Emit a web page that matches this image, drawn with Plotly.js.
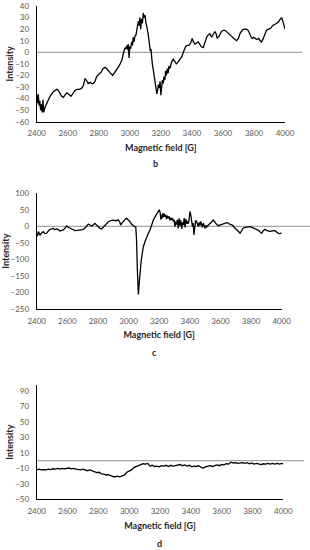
<!DOCTYPE html>
<html>
<head>
<meta charset="utf-8">
<script src="https://cdn.plot.ly/plotly-3.0.1.min.js"></script>
<style>html,body{margin:0;padding:0;background:#fff;}#chart{width:310px;height:550px;}</style>
</head>
<body>
<div id="chart"></div>
<script>
// Panel b
const fieldB = [2400,2405,2410,2415,2420,2425,2430,2435,2440,2445,2452,2464,2475,2486,2497,2507,2518,2529,2540,2550,2561,2571,2583,2593,2604,2614,2621,2632,2647,2660,2675,2690,2700,2711,2720,2732,2745,2755,2765,2776,2786,2800,2816,2828,2840,2850,2861,2875,2889,2900,2910,2919,2930,2941,2950,2962,2969,2975,2982,2986,2990,2995,3000,3005,3012,3017,3022,3027,3033,3040,3046,3050,3055,3060,3065,3070,3076,3081,3087,3092,3098,3104,3110,3119,3126,3132,3136,3140,3145,3151,3156,3162,3168,3174,3179,3184,3190,3195,3200,3205,3210,3215,3220,3226,3231,3236,3242,3247,3252,3258,3264,3270,3280,3290,3300,3308,3320,3334,3345,3360,3370,3381,3392,3402,3410,3420,3430,3441,3450,3460,3473,3485,3495,3505,3516,3527,3538,3548,3556,3563,3575,3591,3603,3613,3630,3645,3655,3666,3678,3688,3700,3709,3724,3735,3752,3762,3774,3782,3789,3800,3817,3830,3840,3849,3860,3870,3881,3895,3909,3920,3935,3946,3956,3966,3978,3988,4000];
const intensityB = [-37,-44,-36,-46,-42,-50,-45,-52,-41,-52,-48,-44,-41,-38,-36,-34,-33,-32,-33,-36,-38,-39,-37,-35,-36,-37,-38,-36,-33,-32,-32,-31,-29,-23,-24,-27,-26,-27,-27,-25,-21,-19,-17,-14,-13,-14,-16,-18,-20,-18,-16,-15,-12,-9,-6,1,4,3,6,2,7,-5,5,3,9,6,13,9,14,15,20,24,27,23,30,20,29,25,34,30,32,25,22,15,8,1,3,-5,-10,-15,-20,-27,-30,-36,-33,-28,-31,-25,-37,-30,-24,-27,-21,-24,-16,-20,-14,-18,-12,-14,-10,-8,-6,-8,-10,-9,-7,-4,0,5,6,6,8,12,9,7,8,9,7,5,4,9,13,15,16,13,16,18,16,12,14,18,19,19,17,15,14,12,11,10,12,16,19,20,20,19,15,13,12,13,11,12,10,9,12,15,19,20,21,23,24,25,26,28,30,26,20];

// Panel c
const fieldC = [2400,2404,2411,2416,2422,2432,2443,2454,2465,2476,2487,2498,2508,2519,2530,2541,2552,2563,2574,2585,2596,2606,2617,2630,2650,2667,2683,2700,2715,2726,2737,2748,2759,2770,2781,2792,2802,2813,2824,2835,2846,2857,2868,2884,2900,2916,2933,2942,2948,2957,2966,2977,2988,2998,3009,3020,3031,3040,3047,3052,3057,3062,3064,3068,3075,3082,3090,3097,3108,3119,3130,3140,3150,3162,3172,3183,3192,3200,3206,3211,3216,3220,3224,3228,3232,3238,3243,3248,3254,3260,3265,3271,3276,3282,3287,3292,3298,3303,3308,3314,3319,3325,3330,3336,3341,3347,3352,3358,3363,3369,3374,3380,3385,3390,3395,3401,3406,3412,3417,3422,3427,3432,3438,3445,3450,3455,3461,3466,3471,3477,3482,3488,3494,3499,3505,3510,3521,3532,3543,3553,3564,3575,3586,3597,3608,3619,3630,3641,3651,3662,3673,3684,3695,3706,3717,3728,3739,3750,3761,3772,3783,3793,3804,3815,3826,3837,3848,3859,3870,3880,3891,3902,3913,3924,3935,3946,3956,3967,3978,3989,4000];
const intensityC = [-21,-30,-16,-22,-26,-20,-16,-22,-21,-14,-9,-8,-6,-10,-8,-10,-14,-12,-11,-5,1,-3,-6,-10,-13,-12,-11,-10,-6,0,7,4,1,5,9,3,-2,-6,-8,-2,4,9,14,17,19,17,19,14,4,10,16,21,24,20,14,6,1,-1,-2,-40,-127,-190,-206,-180,-137,-105,-80,-61,-45,-31,-20,-11,5,19,28,37,45,50,42,20,35,25,40,28,38,29,35,22,32,24,30,18,26,19,25,15,20,-1,14,5,20,-6,24,2,18,-8,12,4,25,-3,22,8,15,8,20,45,35,19,0,10,-26,-5,18,14,5,-1,12,2,15,8,-3,10,0,-6,3,-2,4,8,14,19,12,6,2,4,6,7,9,11,10,6,5,1,-6,-10,-15,-21,-12,-5,-3,-2,-3,-1,-3,-5,-6,-8,-12,-17,-21,-13,-9,-12,-14,-16,-14,-13,-13,-17,-21,-22,-20];

// Panel d
const fieldD = [2400,2415,2430,2445,2460,2475,2490,2505,2520,2535,2550,2565,2580,2595,2610,2625,2640,2655,2670,2685,2700,2715,2730,2745,2760,2775,2790,2805,2820,2835,2850,2865,2880,2895,2910,2925,2940,2955,2970,2985,3000,3015,3030,3045,3060,3075,3090,3105,3120,3135,3150,3165,3180,3195,3210,3225,3240,3255,3270,3285,3300,3315,3330,3345,3360,3375,3390,3405,3420,3435,3450,3465,3480,3495,3510,3525,3540,3555,3570,3585,3600,3615,3630,3645,3660,3675,3690,3705,3720,3735,3750,3765,3780,3795,3810,3825,3840,3855,3870,3885,3900,3915,3930,3945,3960,3975,3990,4000];
const intensityD = [-12,-11,-12,-11.5,-12,-11,-11.5,-10.5,-11,-10,-11,-10,-10.5,-10,-9.5,-10.5,-10,-11,-11.5,-12,-11,-12.5,-13,-12,-13.5,-14,-15.5,-15,-17,-17.5,-18.5,-18,-19.5,-20.5,-21,-20,-21,-20,-18.5,-15,-13.5,-12,-9,-8,-6,-5.5,-4,-4.5,-3.5,-7,-6,-7.5,-7,-8,-6.5,-7,-6,-7.5,-6,-7,-6.5,-6,-5,-6.5,-5.5,-7,-6,-8,-7,-7.5,-6.5,-8.5,-9.5,-8,-7,-6.5,-7.5,-6,-5.5,-6.5,-5,-5.5,-4,-4.5,-2,-3,-2.5,-3.5,-3,-2.5,-3.5,-2.5,-4,-3,-4.5,-3.5,-4,-5,-4,-4.5,-3.5,-4.5,-3.5,-4.5,-3.5,-4.5,-3.5,-4];

const panelLabels = ['b','c','d'];
const xTitle = 'Magnetic field [G]';
const yTitle = 'Intensity';

const FONT = 'Lato, "Open Sans", "Liberation Sans", sans-serif';
const tickFont = {family: FONT, size: 8, color: '#595959'};
const titleFont = {family: FONT, size: 9, color: '#262626', weight: 'bold'};

function line(x, y, xa, ya) {
  return {x: x, y: y, xaxis: xa, yaxis: ya, type: 'scatter', mode: 'lines',
    line: {color: '#000000', width: 1.3}, hoverinfo: 'skip', showlegend: false};
}

function xAxis(dom, anchor) {
  return {domain: dom, anchor: anchor, range: [2400, 4000], tick0: 2400, dtick: 200,
    showgrid: false, zeroline: false, showline: true, linecolor: '#000000', linewidth: 1,
    ticks: '', tickfont: tickFont, ticklabelstandoff: 4,
    title: {text: xTitle, font: titleFont, standoff: 7}};
}
function yAxis(dom, anchor, range, tick0, dtick) {
  return {domain: dom, anchor: anchor, range: range, tick0: tick0, dtick: dtick,
    showgrid: false, zeroline: false, showline: true, linecolor: '#000000', linewidth: 1,
    ticks: '', tickfont: tickFont, ticklabelstandoff: 5,
    title: {text: yTitle, font: titleFont, standoff: 0}};
}

const data = [
  line(fieldB, intensityB, 'x', 'y'),
  line(fieldC, intensityC, 'x2', 'y2'),
  line(fieldD, intensityD, 'x3', 'y3')
];

function zeroLine(yref, x0, x1) {
  return {type: 'line', xref: 'paper', yref: yref, x0: x0, x1: x1, y0: 0, y1: 0,
    line: {color: '#a6a6a6', width: 1.3}, layer: 'below'};
}

const layout = {
  width: 310, height: 550,
  margin: {l: 0, r: 0, t: 0, b: 0},
  paper_bgcolor: '#ffffff', plot_bgcolor: 'rgba(0,0,0,0)',
  showlegend: false,
  xaxis: xAxis([0.1184, 0.9194], 'y'),
  yaxis: yAxis([0.7787, 0.9891], 'x', [-60, 40], -60, 10),
  xaxis2: xAxis([0.1184, 0.9087], 'y2'),
  yaxis2: yAxis([0.4382, 0.6486], 'x2', [-250, 100], -250, 50),
  xaxis3: xAxis([0.1184, 0.9139], 'y3'),
  yaxis3: yAxis([0.0922, 0.3000], 'x3', [-50, 98], -50, 20),
  shapes: [
    zeroLine('y', 0.1184, 0.974),
    zeroLine('y2', 0.1184, 1.0),
    zeroLine('y3', 0.1184, 0.981)
  ],
  annotations: [
    {text: panelLabels[0], xref: 'paper', yref: 'paper', x: 155/310, y: 1 - 164/550, showarrow: false, font: titleFont, xanchor: 'center', yanchor: 'middle'},
    {text: panelLabels[1], xref: 'paper', yref: 'paper', x: 154/310, y: 1 - 352.7/550, showarrow: false, font: titleFont, xanchor: 'center', yanchor: 'middle'},
    {text: panelLabels[2], xref: 'paper', yref: 'paper', x: 159/310, y: 1 - 543/550, showarrow: false, font: titleFont, xanchor: 'center', yanchor: 'middle'}
  ]
};

Plotly.newPlot('chart', data, layout, {staticPlot: true, displayModeBar: false});
</script>
</body>
</html>
